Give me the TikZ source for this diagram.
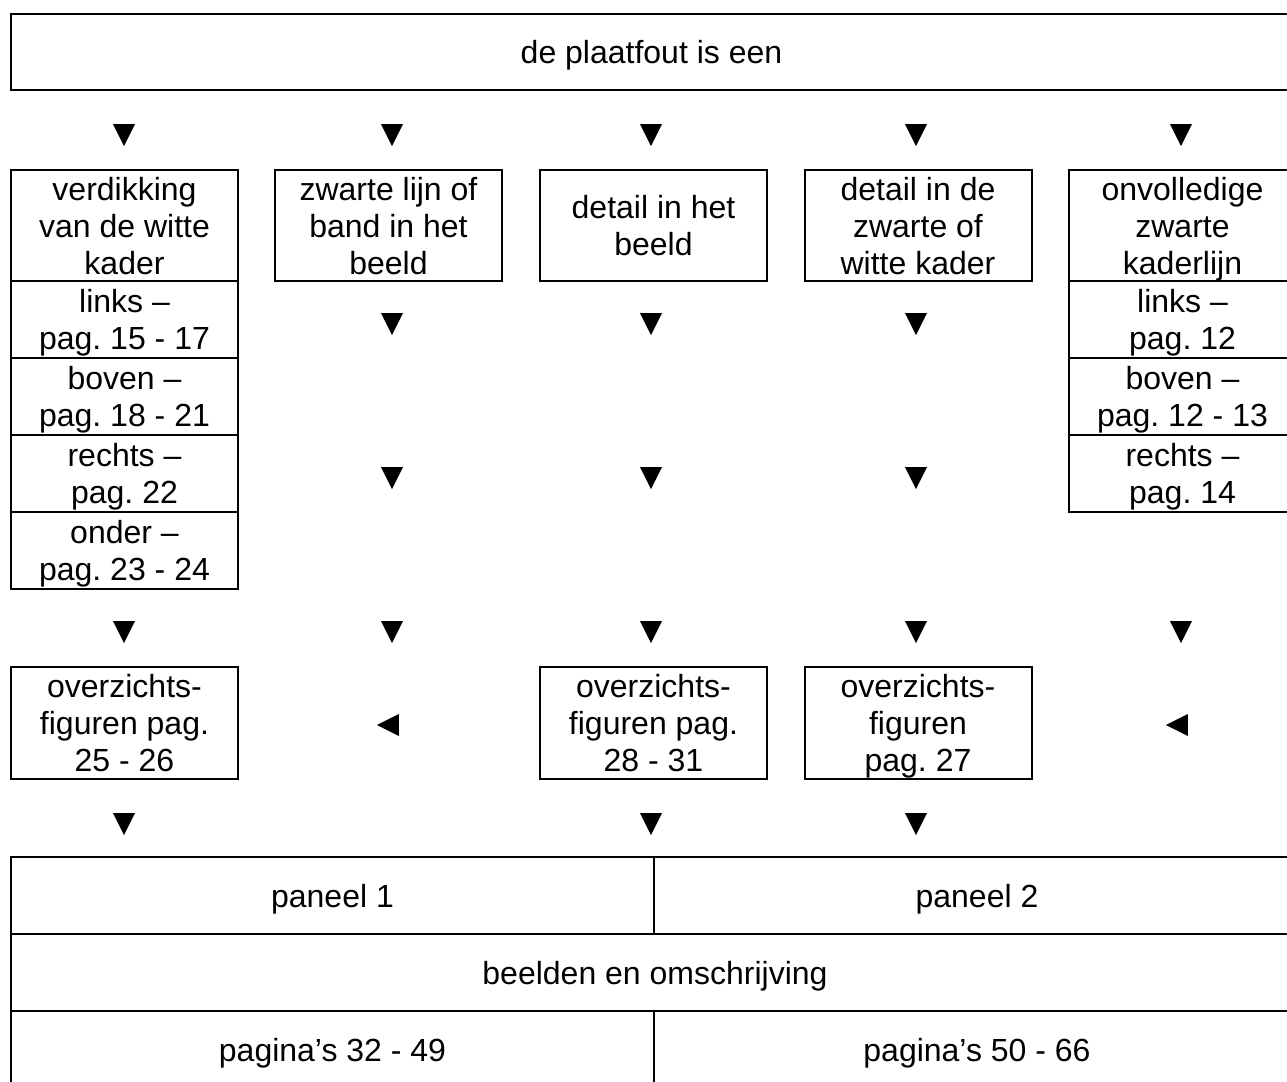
\documentclass[tikz,border=0pt]{standalone}
\usepackage{fontspec}
\setmainfont{Liberation Sans}
\frenchspacing
\usetikzlibrary{positioning,shapes.geometric}
\tikzstyle{kader}=[rectangle,draw=black,line width=1pt,inner sep=0pt,outer sep=0pt,align=center,text depth=0pt,minimum width=113.5pt]
\tikzstyle{kop}=[kader,minimum height=55.5pt]
\tikzstyle{vak}=[kader,minimum height=38.5pt]
\tikzstyle{pijlneer}=[isosceles triangle,isosceles triangle stretches,shape border rotate=-90,fill=black,inner sep=0pt,minimum width=11pt,minimum height=11pt]
\tikzstyle{pijllinks}=[isosceles triangle,isosceles triangle stretches,shape border rotate=180,fill=black,inner sep=0pt,minimum width=11pt,minimum height=11pt]

\begin{document}
\begin{tikzpicture}[x=0.5pt,y=-0.5pt,every node/.style={font=\fontsize{16}{18.5}\selectfont}]
		\clip (0,0) rectangle (1287,1082);
		\node[kader,minimum width=640.5pt,minimum height=38pt] (fout) at (651.5,52) {de plaatfout is een};
		% kolommen
		\node[kop] (k1) at (124.5,225.5) {verdikking\\van de witte\\kader};
		\node[vak,below=0pt of k1] (k1a) {links --\\pag. 15 - 17};
		\node[vak,below=0pt of k1a] (k1b) {boven --\\pag. 18 - 21};
		\node[vak,below=0pt of k1b] (k1c) {rechts --\\pag. 22};
		\node[vak,below=0pt of k1c] (k1d) {onder --\\pag. 23 - 24};
		\node[kop] (k2) at (388.5,225.5) {zwarte lijn of\\band in het\\beeld};
		\node[kop] (k3) at (653.5,225.5) {detail in het\\beeld};
		\node[kop] (k4) at (918,225.5) {detail in de\\zwarte of\\witte kader};
		\node[kop] (k5) at (1182.5,225.5) {onvolledige\\zwarte\\kaderlijn};
		\node[vak,below=0pt of k5] (k5a) {links --\\pag. 12};
		\node[vak,below=0pt of k5a] (k5b) {boven --\\pag. 12 - 13};
		\node[vak,below=0pt of k5b] (k5c) {rechts --\\pag. 14};
		% overzichtsfiguren
		\node[kop,minimum height=56pt] (ov1) at (124.5,723) {overzichts-\\figuren pag.\\25 - 26};
		\node[kop,minimum height=56pt] (ov3) at (653.5,723) {overzichts-\\figuren pag.\\28 - 31};
		\node[kop,minimum height=56pt] (ov4) at (918,723) {overzichts-\\figuren\\pag. 27};
		% panelen
		\node[vak,minimum width=321.5pt] (pan1) at (332.5,895.5) {paneel 1};
		\node[vak,minimum width=323pt,right=0pt of pan1] (pan2) {paneel 2};
		\node[vak,minimum width=644.5pt] (beeld) at (655,972.5) {beelden en omschrijving};
		\node[vak,minimum width=321.5pt] (pag1) at (332.5,1049.5) {pagina’s 32 - 49};
		\node[vak,minimum width=323pt,right=0pt of pag1] (pag2) {pagina’s 50 - 66};
		% pijlen
		\foreach \x/\n in {124/1,392/2,651/3,916/4,1181/5}{
			\node[pijlneer] (a\n) at (\x,131) {};
			\node[pijlneer] (d\n) at (\x,628) {};
		}
		\foreach \x/\n in {392/2,651/3,916/4}{
			\node[pijlneer] (b\n) at (\x,320) {};
			\node[pijlneer] (c\n) at (\x,474) {};
		}
		\foreach \x/\n in {124/1,651/3,916/4}
			\node[pijlneer] (f\n) at (\x,820) {};
		\node[pijllinks] (e2) at (392,725) {};
		\node[pijllinks] (e5) at (1181,725) {};
	\end{tikzpicture}
\end{document}
